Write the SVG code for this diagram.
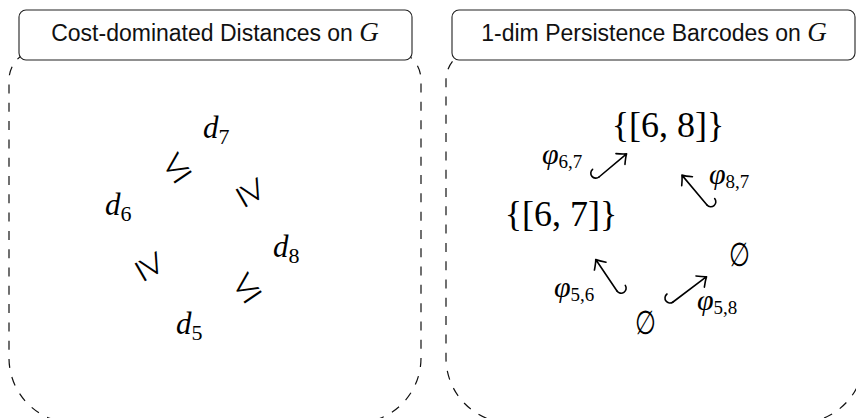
<svg xmlns="http://www.w3.org/2000/svg" width="856" height="418" viewBox="0 0 856 418">
<style>
.bg{fill:#fff}
.frame{fill:none;stroke:#111;stroke-width:1.2;stroke-dasharray:9 9.3}
.box{fill:#fff;stroke:#222;stroke-width:1.1}
.title{font-family:"Liberation Sans",Arial,sans-serif;font-size:23px;fill:#111}
.g{font-family:"Liberation Serif",serif;font-style:italic;font-size:27px}
.mi{font-family:"Liberation Serif",serif;font-style:italic;fill:#000}
.rm{font-family:"Liberation Serif",serif;font-style:normal;fill:#000}
.rel{font-family:"Liberation Serif",serif;font-size:44px;fill:#000}
.arr{fill:none;stroke:#000;stroke-width:1.6;stroke-linecap:round;stroke-linejoin:round}
</style>
<defs>
<path id="hookA" d="M0,-10 A5,5 0 0 0 0,0"/>
<path id="hookB" d="M0,10 A5,5 0 0 1 0,0"/>
</defs>
<rect class="bg" x="0" y="0" width="856" height="418"/>
<g id="frames">
<path class="frame" d="M39,50 H391 A30,30 0 0 1 421,80 V358 A65,65 0 0 1 356,423 H74 A65,65 0 0 1 9,358 V80 A30,30 0 0 1 39,50 Z"/>
<path class="frame" d="M476,50 H834 A30,30 0 0 1 864,80 V358 A65,65 0 0 1 799,423 H511 A65,65 0 0 1 446,358 V80 A30,30 0 0 1 476,50 Z"/>
</g>
<g id="title-left">
<rect class="box" x="19" y="10" width="393" height="50" rx="7"/>
<text class="title" x="215" y="41" text-anchor="middle">Cost-dominated Distances on <tspan class="g">G</tspan></text>
</g>
<g id="title-right">
<rect class="box" x="452" y="10" width="403" height="50" rx="7"/>
<text class="title" x="654" y="41" text-anchor="middle">1-dim Persistence Barcodes on <tspan class="g">G</tspan></text>
</g>
<g id="d7"><text class="mi" x="203" y="138" font-size="31">d<tspan class="rm" font-size="22" dy="6">7</tspan></text></g>
<g id="d6"><text class="mi" x="105" y="215" font-size="31">d<tspan class="rm" font-size="22" dy="6">6</tspan></text></g>
<g id="d8"><text class="mi" x="273" y="257" font-size="31">d<tspan class="rm" font-size="22" dy="6">8</tspan></text></g>
<g id="d5"><text class="mi" x="176" y="334" font-size="31">d<tspan class="rm" font-size="22" dy="6">5</tspan></text></g>
<g id="relations">
<text class="rel" transform="translate(176,167) rotate(-34)" x="0" y="13" text-anchor="middle">≤</text>
<text class="rel" transform="translate(252,192) rotate(60)" x="0" y="13" text-anchor="middle">≥</text>
<text class="rel" transform="translate(151,266) rotate(60)" x="0" y="13" text-anchor="middle">≥</text>
<text class="rel" transform="translate(246,287) rotate(-34)" x="0" y="13" text-anchor="middle">≤</text>
</g>
<g id="b68"><text class="rm" x="668" y="137" font-size="36" text-anchor="middle">{[6, 8]}</text></g>
<g id="b67"><text class="rm" x="561" y="226" font-size="36" text-anchor="middle">{[6, 7]}</text></g>
<g id="e8"><text class="rm" transform="translate(739,266) scale(0.8,1.1)" x="0" y="0" font-size="30" text-anchor="middle">∅</text></g>
<g id="e5"><text class="rm" transform="translate(645,334) scale(0.8,1.1)" x="0" y="0" font-size="30" text-anchor="middle">∅</text></g>
<g id="maps">
<g transform="translate(599,177) rotate(-40)"><use href="#hookA" class="arr"/><path class="arr" d="M0,0 H36 M28,-7 Q33,-2 36,0 Q33,2 28,7"/></g>
<g transform="translate(707,205) rotate(-130)"><use href="#hookB" class="arr"/><path class="arr" d="M0,0 H39 M31,-7 Q36,-2 39,0 Q36,2 31,7"/></g>
<g transform="translate(617,291) rotate(-124)"><use href="#hookB" class="arr"/><path class="arr" d="M0,0 H38 M30,-7 Q35,-2 38,0 Q35,2 30,7"/></g>
<g transform="translate(673,302) rotate(-37)"><use href="#hookA" class="arr"/><path class="arr" d="M0,0 H42 M34,-7 Q39,-2 42,0 Q39,2 34,7"/></g>
<text class="mi" x="542" y="164" font-size="30">φ<tspan class="rm" font-size="19" dy="4">6,7</tspan></text>
<text class="mi" x="709" y="184" font-size="30">φ<tspan class="rm" font-size="19" dy="4">8,7</tspan></text>
<text class="mi" x="554" y="297" font-size="30">φ<tspan class="rm" font-size="19" dy="4">5,6</tspan></text>
<text class="mi" x="697" y="310" font-size="30">φ<tspan class="rm" font-size="19" dy="4">5,8</tspan></text>
</g>
</svg>
